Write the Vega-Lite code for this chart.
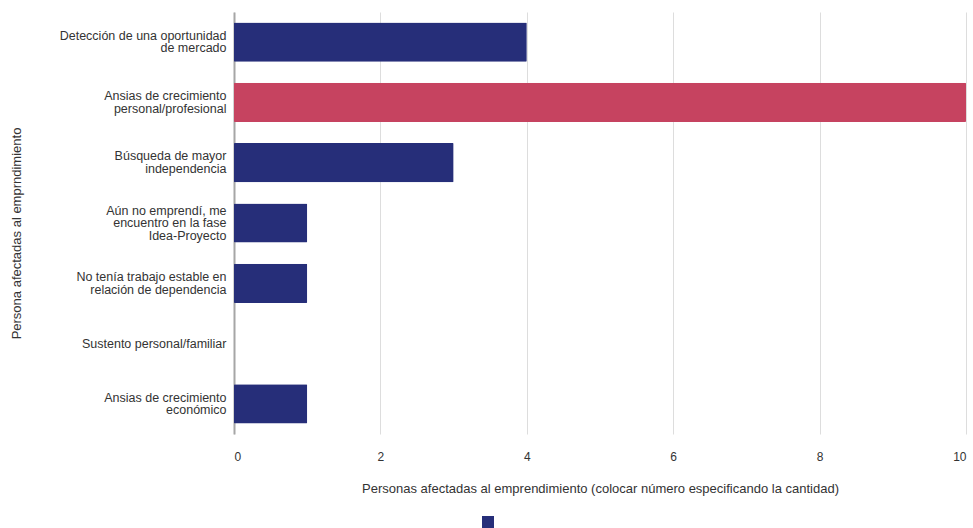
{
  "$schema": "https://vega.github.io/schema/vega-lite/v6.json",
  "width": 732,
  "height": 422,
  "autosize": {"type": "none"},
  "padding": {"left": 234, "top": 12, "right": 7, "bottom": 94},
  "background": "white",
  "data": {
    "values": [
      {"motivo": "Detección de una oportunidad\nde mercado", "personas": 4, "grupo": "a"},
      {"motivo": "Ansias de crecimiento\npersonal/profesional", "personas": 10, "grupo": "b"},
      {"motivo": "Búsqueda de mayor\nindependencia", "personas": 3, "grupo": "a"},
      {"motivo": "Aún no emprendí, me\nencuentro en la fase\nIdea-Proyecto", "personas": 1, "grupo": "a"},
      {"motivo": "No tenía trabajo estable en\nrelación de dependencia", "personas": 1, "grupo": "a"},
      {"motivo": "Sustento personal/familiar", "personas": 0, "grupo": "a"},
      {"motivo": "Ansias de crecimiento\neconómico", "personas": 1, "grupo": "a"}
    ]
  },
  "mark": {"type": "bar", "cornerRadius": 1},
  "encoding": {
    "y": {
      "field": "motivo",
      "type": "nominal",
      "sort": null,
      "scale": {"paddingInner": 0.35, "paddingOuter": 0.175},
      "axis": {
        "title": "Persona afectadas al emprndimiento",
        "titleX": -211,
        "titleY": 221,
        "titleAngle": -90,
        "titleBaseline": "bottom",
        "titleFont": "Liberation Sans",
        "titleFontSize": 13,
        "titleFontWeight": "normal",
        "titleColor": "#333333",
        "labelExpr": "split(datum.label, '\\n')",
        "labelFont": "Liberation Sans",
        "labelFontSize": 12.5,
        "labelColor": "#333333",
        "labelLineHeight": 12.5,
        "labelPadding": 8,
        "labelLimit": 300,
        "labelOffset": {
          "condition": [
            {"test": "length(split(datum.value, '\\n')) == 3", "value": -12.5},
            {"test": "length(split(datum.value, '\\n')) == 2", "value": -6.25}
          ],
          "value": 0
        },
        "ticks": false,
        "domain": true,
        "domainColor": "#a6a6a6",
        "domainWidth": 2,
        "grid": false
      }
    },
    "x": {
      "field": "personas",
      "type": "quantitative",
      "scale": {"domain": [0, 10], "nice": false},
      "axis": {
        "title": "Personas afectadas al emprendimiento (colocar número especificando la cantidad)",
        "titleFont": "Liberation Sans",
        "titleFontSize": 13,
        "titleFontWeight": "normal",
        "titleColor": "#333333",
        "titlePadding": 20,
        "values": [0, 2, 4, 6, 8, 10],
        "labelFont": "Liberation Sans",
        "labelFontSize": 12,
        "labelColor": "#333333",
        "labelPadding": 17,
        "ticks": false,
        "domain": false,
        "grid": true,
        "gridColor": "#dddddd",
        "gridWidth": 1
      }
    },
    "color": {
      "field": "grupo",
      "type": "nominal",
      "scale": {"domain": ["a", "b"], "range": ["#262e79", "#c64360"]},
      "legend": {
        "orient": "none",
        "legendX": 248,
        "legendY": 504,
        "values": ["a"],
        "labelExpr": "''",
        "title": null,
        "symbolType": "square",
        "symbolSize": 144,
        "symbolStrokeWidth": 0,
        "padding": 0
      }
    }
  },
  "config": {"view": {"stroke": null}}
}
